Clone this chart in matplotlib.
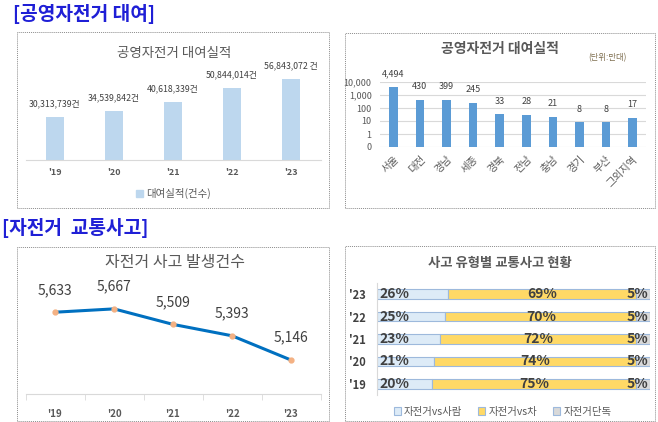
import matplotlib
matplotlib.use("Agg")
import matplotlib.pyplot as plt
from matplotlib.patches import Rectangle
from matplotlib.ticker import FixedLocator, NullFormatter

plt.rcParams["font.family"] = ["Noto Sans CJK KR", "DejaVu Sans"]

# --- data ---
years = ["'19", "'20", "'21", "'22", "'23"]
rental_counts = [30313739, 34539842, 40618339, 50844014, 56843072]
rental_labels = ["30,313,739건", "34,539,842건", "40,618,339건", "50,844,014건", "56,843,072 건"]

regions = ["서울", "대전", "경남", "세종", "경북", "전남", "충남", "경기", "부산", "그외지역"]
region_bikes = [4494, 430, 399, 245, 33, 28, 21, 8, 8, 17]

accidents = [5633, 5667, 5509, 5393, 5146]

type_years = ["'19", "'20", "'21", "'22", "'23"]
vs_person = [20, 21, 23, 25, 26]
vs_car = [75, 74, 72, 70, 69]
solo = [5, 5, 5, 5, 5]

W, H = 658, 422
GRAY = "#595959"
DARK = "#404040"
BLUE_TITLE = "#1F1FD6"

fig = plt.figure(figsize=(W / 100, H / 100), dpi=100)
fig.patch.set_facecolor("white")


def px_axes(x0, y0, x1, y1):
    # pixel box (top-left origin) -> figure axes
    return fig.add_axes([x0 / W, 1 - y1 / H, (x1 - x0) / W, (y1 - y0) / H])


def px_text(x, y, s, **kw):
    fig.text(x / W, 1 - y / H, s, **kw)


def dotted_box(x0, y0, x1, y1):
    fig.add_artist(Rectangle((x0 / W, 1 - y1 / H), (x1 - x0) / W, (y1 - y0) / H,
                             transform=fig.transFigure, fill=False, ec="#8c8c8c",
                             lw=0.7, ls=(0, (1, 1))))


# section headings
px_text(13, 14, "[공영자전거 대여]", color=BLUE_TITLE, fontsize=13.8, fontweight="bold", va="center")
px_text(2, 228, "[자전거  교통사고]", color=BLUE_TITLE, fontsize=13.8, fontweight="bold", va="center")

dotted_box(17, 32, 329, 208)
dotted_box(345, 33, 655, 208)
dotted_box(17, 247, 329, 421)
dotted_box(345, 246, 655, 421)

# --- panel 1: rentals per year ---
ax1 = px_axes(25.5, 55, 320.5, 160)
x = range(len(years))
ax1.bar(x, rental_counts, width=0.32, color="#BDD7EE")
ax1.set_xlim(-0.5, 4.5)
ax1.set_ylim(0, 73.7e6)
for i, (v, lab) in enumerate(zip(rental_counts, rental_labels)):
    ax1.annotate(lab, (i, v), xytext=(0, 6), textcoords="offset points",
                 ha="center", va="bottom", fontsize=6.3, color=DARK)
for s in ["top", "left", "right"]:
    ax1.spines[s].set_visible(False)
ax1.spines["bottom"].set_color("#d9d9d9")
ax1.set_yticks([])
ax1.set_xticks(list(x))
ax1.set_xticklabels(years, fontsize=6.5, color=GRAY, fontweight="bold")
ax1.tick_params(axis="x", length=0, pad=6)
px_text(174, 53, "공영자전거 대여실적", ha="center", va="center", fontsize=9.7, color=GRAY)
fig.add_artist(Rectangle((136 / W, 1 - 197 / H), 7 / W, 7 / H, transform=fig.transFigure,
                         color="#BDD7EE"))
px_text(146, 193, "대여실적(건수)", ha="left", va="center", fontsize=7.5, color=GRAY)

# --- panel 2: bikes by region (log) ---
ax2 = px_axes(380, 82, 646, 147)
xr = range(len(regions))
ax2.bar(xr, region_bikes, width=0.32, color="#5B9BD5", bottom=0.1)
ax2.set_yscale("log")
ax2.set_ylim(0.1, 1e4)
ax2.set_xlim(-0.5, len(regions) - 0.5)
ax2.yaxis.set_major_locator(FixedLocator([0.1, 1, 10, 100, 1000, 10000]))
ax2.yaxis.set_minor_formatter(NullFormatter())
ax2.yaxis.set_minor_locator(FixedLocator([]))
ax2.set_yticklabels(["0", "1", "10", "100", "1,000", "10,000"], fontsize=6.5, color=GRAY)
ax2.grid(axis="y", color="#d9d9d9", lw=0.8)
ax2.set_axisbelow(True)
for s in ax2.spines.values():
    s.set_visible(False)
ax2.tick_params(axis="y", length=0, pad=6)
ax2.set_xticks(list(xr))
ax2.set_xticklabels(regions, rotation=45, ha="right", rotation_mode="anchor",
                    fontsize=7.5, color=GRAY)
ax2.tick_params(axis="x", length=0, pad=5)
for i, v in enumerate(region_bikes):
    ax2.annotate(f"{v:,}", (i, v), xytext=(0, 9.5), textcoords="offset points",
                 ha="center", va="center", fontsize=6.5, color=DARK, annotation_clip=False)
px_text(500, 49, "공영자전거 대여실적", ha="center", va="center", fontsize=10, fontweight="bold", color=GRAY)
px_text(607, 58, "(단위:만대)", ha="center", va="center", fontsize=6, color="#7f6f50")

# --- panel 3: accident counts ---
ax3 = px_axes(25.5, 286, 320.5, 394)
ax3.plot(range(len(years)), accidents, color="#0070C0", lw=2.2, marker="o", ms=3.5,
         mfc="#F4B183", mec="#F4B183", solid_capstyle="round")
ax3.set_xlim(-0.5, 4.5)
ax3.set_ylim(4800, 5900)
for i, v in enumerate(accidents):
    ax3.annotate(f"{v:,}", (i, v), xytext=(0, 11), textcoords="offset points",
                 ha="center", va="bottom", fontsize=10, color=DARK)
for s in ["top", "left", "right"]:
    ax3.spines[s].set_visible(False)
ax3.spines["bottom"].set_color("#d9d9d9")
ax3.set_yticks([])
ax3.set_xticks(range(len(years)))
ax3.set_xticklabels(years, fontsize=7, color=GRAY, fontweight="bold")
ax3.set_xticks([i - 0.5 for i in range(len(years) + 1)], minor=True)
ax3.tick_params(axis="x", which="major", length=0, pad=11)
ax3.tick_params(axis="x", which="minor", length=4, color="#d9d9d9")
px_text(175, 263, "자전거 사고 발생건수", ha="center", va="center", fontsize=11.5, color=GRAY)

# --- panel 4: accident types (stacked bars) ---
ax4 = px_axes(377, 283, 650, 395)
yy = range(len(type_years))
edge = "#9DB9DC"
ax4.barh(yy, vs_person, height=0.42, color="#DDEBF7", edgecolor=edge, lw=0.8, label="자전거vs사람")
ax4.barh(yy, vs_car, height=0.42, left=vs_person, color="#FFD966", edgecolor=edge, lw=0.8, label="자전거vs차")
left3 = [a + b for a, b in zip(vs_person, vs_car)]
ax4.barh(yy, solo, height=0.42, left=left3, color="#D9D9D9", edgecolor=edge, lw=0.8, label="자전거단독")
ax4.set_xlim(0, 100)
ax4.set_ylim(-0.5, len(type_years) - 0.5)
for i in yy:
    ax4.text(1, i, f"{vs_person[i]}%", ha="left", va="center", fontsize=10, fontweight="bold", color=DARK)
    ax4.text(vs_person[i] + vs_car[i] / 2, i, f"{vs_car[i]}%", ha="center", va="center",
             fontsize=10, fontweight="bold", color=DARK)
    ax4.text(99.3, i, f"{solo[i]}%", ha="right", va="center", fontsize=10, fontweight="bold", color=DARK)
for s in ["top", "right", "bottom"]:
    ax4.spines[s].set_visible(False)
ax4.spines["left"].set_color("#d9d9d9")
ax4.set_xticks([])
ax4.set_yticks(list(yy))
ax4.set_yticklabels(type_years, fontsize=8, fontweight="bold", color=DARK)
ax4.tick_params(axis="y", length=0, pad=8)
ax4.legend(loc="upper center", bbox_to_anchor=(0.46, -0.02), ncol=3, frameon=False,
           fontsize=7.5, handlelength=0.7, handleheight=0.7, handletextpad=0.3,
           columnspacing=1.5, labelcolor=GRAY)
px_text(500, 263, "사고 유형별 교통사고 현황", ha="center", va="center", fontsize=9.6, fontweight="bold", color=GRAY)

fig.savefig("out.png", dpi=100)
